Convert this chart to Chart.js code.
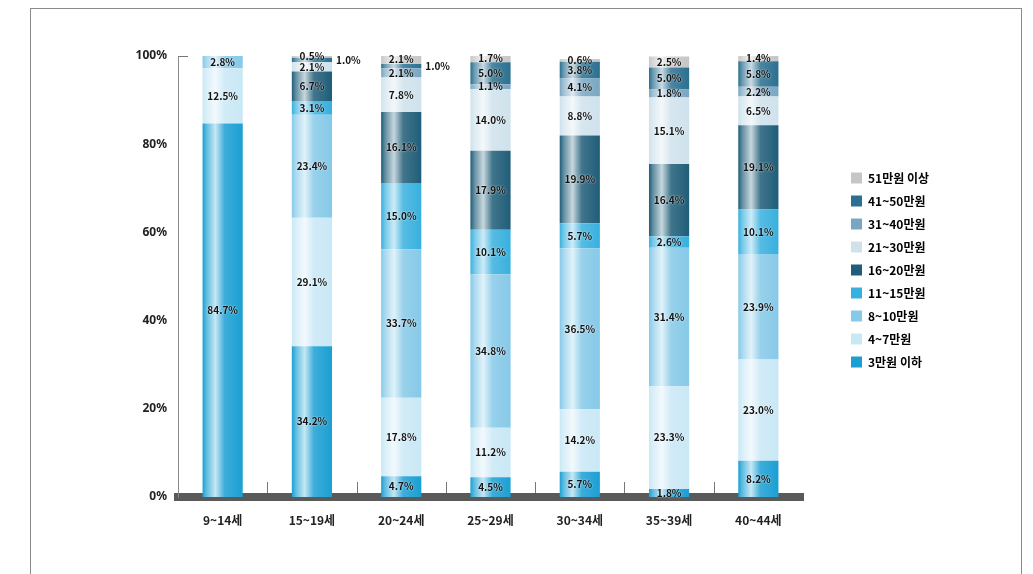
<!doctype html>
<html lang="ko">
<head>
    <meta charset="utf-8">
    <title>연령별 월평균 용돈</title>
    <script src="https://cdn.jsdelivr.net/npm/chart.js"></script>
    <style>
        body {
            margin: 0;
            background: #ffffff;
        }

        .frame {
            position: absolute;
            left: 30px;
            top: 8px;
            width: 990px;
            height: 600px;
            border: 1px solid #8a8a8a;
        }

        #chart {
            position: absolute;
            left: 0;
            top: 0;
        }
    </style>
</head>
<body>
    <div class="frame"></div>
    <canvas id="chart" width="1033" height="574"></canvas>

    <script>
        // 연령대
        const ages = ['9~14세', '15~19세', '20~24세', '25~29세', '30~34세', '35~39세', '40~44세'];

        // 용돈 구간 (아래에서 위로 쌓이는 순서)
        const bands = ['3만원 이하', '4~7만원', '8~10만원', '11~15만원', '16~20만원', '21~30만원', '31~40만원', '41~50만원', '51만원 이상'];

        // 구간별 비율 (%) - 연령대 순서
        const under3 = [84.7, 34.2, 4.7, 4.5, 5.7, 1.8, 8.2];
        const w4to7 = [12.5, 29.1, 17.8, 11.2, 14.2, 23.3, 23.0];
        const w8to10 = [2.8, 23.4, 33.7, 34.8, 36.5, 31.4, 23.9];
        const w11to15 = [0, 3.1, 15.0, 10.1, 5.7, 2.6, 10.1];
        const w16to20 = [0, 6.7, 16.1, 17.9, 19.9, 16.4, 19.1];
        const w21to30 = [0, 2.1, 7.8, 14.0, 8.8, 15.1, 6.5];
        const w31to40 = [0, 0, 2.1, 1.1, 4.1, 1.8, 2.2];
        const w41to50 = [0, 1.0, 1.0, 5.0, 3.8, 5.0, 5.8];
        const over51 = [0, 0.5, 2.1, 1.7, 0.6, 2.5, 1.4];

        const yTicks = [0, 20, 40, 60, 80, 100];

        const series = [under3, w4to7, w8to10, w11to15, w16to20, w21to30, w31to40, w41to50, over51];
        const colors = ['#1b9fd3', '#c9e8f5', '#86c9e8', '#38b0de', '#1f5d78', '#cfe2ec', '#7aa6c2', '#2b7090', '#c6c6c6'];

        const BAR_PCT = 0.45;

        function mix(hex, other, t) {
            const a = parseInt(hex.slice(1), 16), b = parseInt(other.slice(1), 16);
            const r = Math.round(((a >> 16) & 255) * (1 - t) + ((b >> 16) & 255) * t);
            const g = Math.round(((a >> 8) & 255) * (1 - t) + ((b >> 8) & 255) * t);
            const bl = Math.round((a & 255) * (1 - t) + (b & 255) * t);
            return `rgb(${r},${g},${bl})`;
        }

        // 원기둥처럼 보이게 가로 그라데이션
        function barFill(base) {
            return function (ctx) {
                const chart = ctx.chart;
                const area = chart.chartArea;
                if (!area || ctx.type !== 'data' || !chart.scales.x) return base;
                const cx = chart.scales.x.getPixelForValue(ctx.dataIndex);
                const w = (area.right - area.left) / ages.length * BAR_PCT;
                const g = chart.ctx.createLinearGradient(cx - w / 2, 0, cx + w / 2, 0);
                g.addColorStop(0, base);
                g.addColorStop(0.1, mix(base, '#ffffff', 0.3));
                g.addColorStop(0.32, mix(base, '#ffffff', 0.75));
                g.addColorStop(0.55, mix(base, '#ffffff', 0.15));
                g.addColorStop(1, base);
                return g;
            };
        }

        const valueLabels = {
            id: 'valueLabels',
            afterDatasetsDraw(chart) {
                const c = chart.ctx;
                const last = chart.data.datasets.length - 1;
                c.save();
                c.font = 'bold 10px "Noto Sans CJK KR", "Noto Sans", sans-serif';
                c.fillStyle = '#111';
                c.textBaseline = 'middle';
                c.shadowColor = 'rgba(255,255,255,0.9)';
                c.shadowBlur = 2;
                chart.data.datasets.forEach((ds, di) => {
                    chart.getDatasetMeta(di).data.forEach((bar, i) => {
                        const v = ds.data[i];
                        if (!v) return;
                        const mid = (bar.y + bar.base) / 2;
                        const txt = v.toFixed(1) + '%';
                        if (v <= 1.0 && di < last) {
                            c.textAlign = 'left';
                            c.fillText(txt, bar.x + bar.width / 2 + 4, mid);
                        } else {
                            c.textAlign = 'center';
                            c.fillText(txt, bar.x, mid);
                        }
                    });
                });
                c.restore();
            }
        };

        // 축의 작은 눈금, 범례 위치
        const axisBits = {
            id: 'axisBits',
            afterInit(chart) {
                const lg = chart.legend;
                const fit = lg.fit;
                lg.fit = function () {
                    fit.call(this);
                    this.width = 230;
                };
            },
            afterLayout(chart) {
                chart.legend.left = 851 - 11;
                chart.legend.top = 172 - 11;
            },
            afterDraw(chart) {
                const c = chart.ctx;
                const xs = chart.scales.x, ys = chart.scales.y;
                const bottom = chart.chartArea.bottom;
                c.save();
                c.strokeStyle = '#777';
                c.lineWidth = 1;
                c.beginPath();
                for (let i = 0; i < ages.length - 1; i++) {
                    const x = Math.round((xs.getPixelForValue(i) + xs.getPixelForValue(i + 1)) / 2) + 0.5;
                    c.moveTo(x, bottom - 15);
                    c.lineTo(x, bottom - 4);
                }
                const top = Math.round(ys.getPixelForValue(100)) + 0.5;
                c.moveTo(chart.chartArea.left, top);
                c.lineTo(chart.chartArea.left + 10, top);
                c.stroke();
                c.restore();
            }
        };

        new Chart(document.getElementById('chart'), {
            type: 'bar',
            data: {
                labels: ages,
                datasets: bands.map((name, i) => ({
                    label: name,
                    data: series[i],
                    backgroundColor: barFill(colors[i]),
                    borderWidth: 0,
                    barPercentage: BAR_PCT,
                    categoryPercentage: 1
                }))
            },
            options: {
                responsive: false,
                animation: false,
                layout: {
                    padding: { top: 56, right: 0, bottom: 0, left: 0 }
                },
                plugins: {
                    tooltip: { enabled: false },
                    legend: {
                        position: 'right',
                        align: 'start',
                        reverse: true,
                        labels: {
                            boxWidth: 11,
                            boxHeight: 11,
                            padding: 11,
                            color: '#222',
                            font: { family: '"Noto Sans CJK KR", sans-serif', size: 12, weight: 'bold' },
                            generateLabels(chart) {
                                return chart.data.datasets.map((ds, i) => ({
                                    text: ds.label,
                                    fillStyle: colors[i],
                                    strokeStyle: colors[i],
                                    lineWidth: 0,
                                    datasetIndex: i,
                                    hidden: false
                                }));
                            }
                        }
                    }
                },
                scales: {
                    x: {
                        stacked: true,
                        z: 1,
                        grid: { display: false, drawTicks: false },
                        border: { display: true, color: '#5a5a5a', width: 8 },
                        ticks: {
                            padding: 16,
                            color: '#222',
                            font: { family: '"Noto Sans CJK KR", sans-serif', size: 12, weight: 'bold' }
                        },
                        afterFit(scale) { scale.height = 77; }
                    },
                    y: {
                        stacked: true,
                        min: 0,
                        max: 100,
                        afterBuildTicks(scale) { scale.ticks = yTicks.map(v => ({ value: v })); },
                        grid: { display: false, drawTicks: false },
                        border: { display: true, color: '#8a8a8a', width: 1, dash: [2, 2] },
                        ticks: {
                            padding: 11,
                            color: '#222',
                            font: { family: '"Noto Sans", sans-serif', size: 12, weight: 'bold' },
                            callback: v => v + '%'
                        },
                        afterFit(scale) { scale.width = 178; }
                    }
                }
            },
            plugins: [valueLabels, axisBits]
        });
    </script>
</body>
</html>
